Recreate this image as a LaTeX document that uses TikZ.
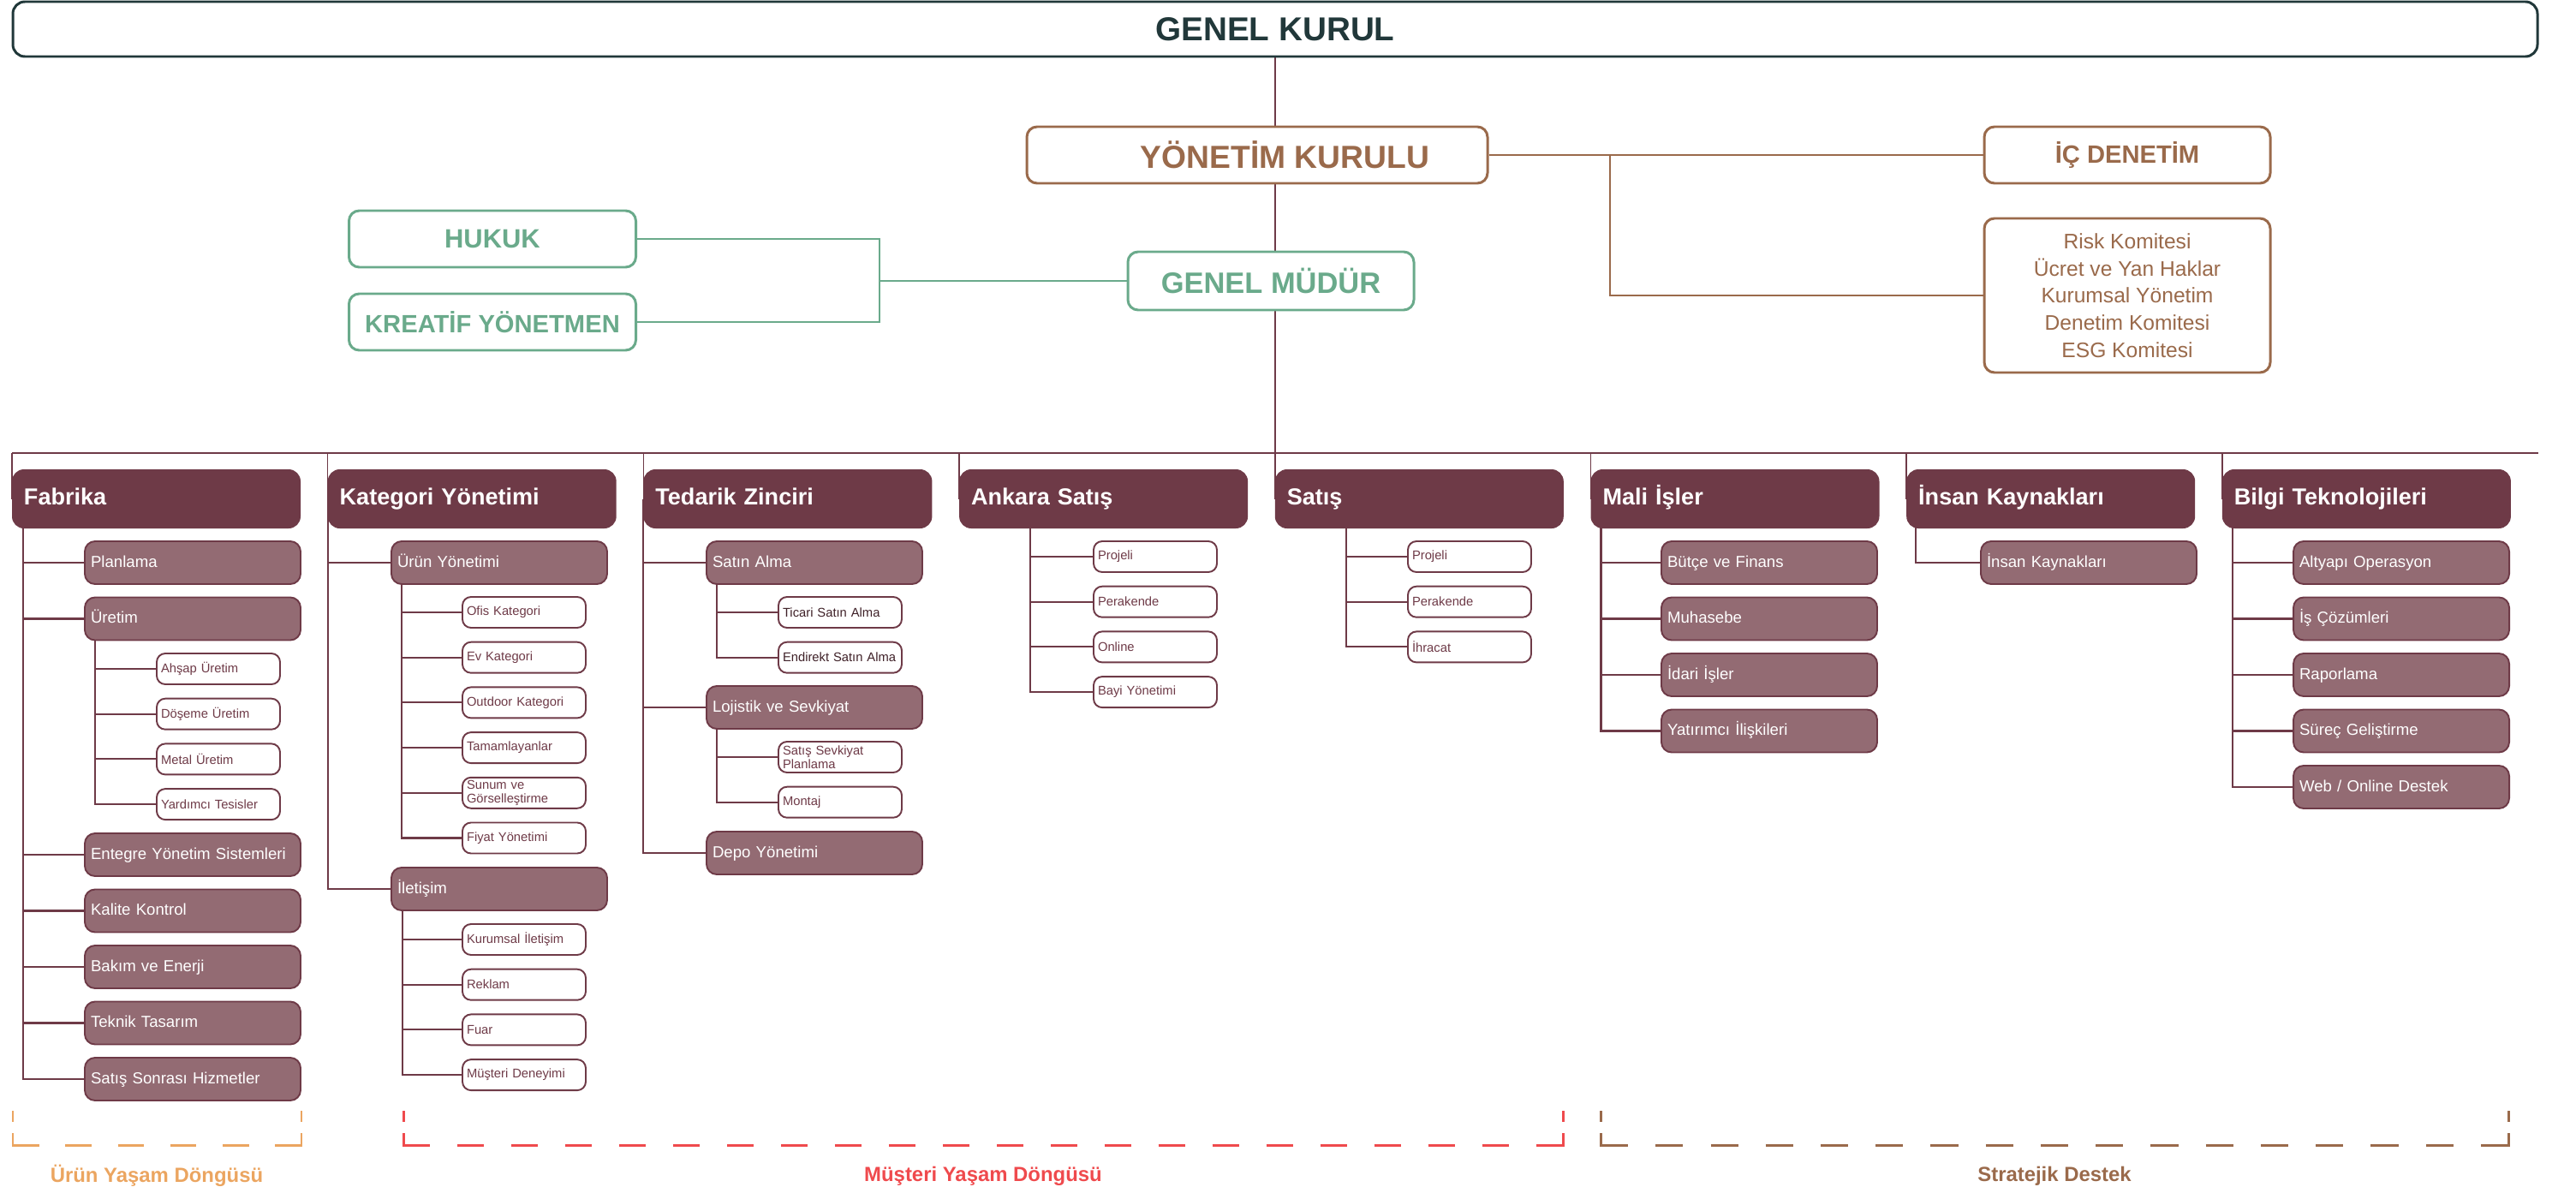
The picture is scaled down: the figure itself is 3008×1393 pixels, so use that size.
\documentclass[tikz,border=0pt]{standalone}
\usepackage{fontspec}
\setmainfont{Liberation Sans}
\usepackage{tikz}
\usetikzlibrary{positioning}
\pgfdeclarelayer{background}
\pgfsetlayers{background,main}
\definecolor{tealdk}{HTML}{21383A}
\definecolor{brn}{HTML}{9A6A4B}
\definecolor{grn}{HTML}{6AAA8B}
\definecolor{mrn}{HTML}{6E3A47}
\definecolor{mrndk}{HTML}{3F2128}
\definecolor{mve}{HTML}{936B73}
\definecolor{orng}{HTML}{EBA560}
\definecolor{redd}{HTML}{EF4A4D}

\begin{document}
\begin{tikzpicture}[x=0.1mm, y=-0.1mm,
  gkbox/.style = {draw=tealdk, line width=0.85pt, rounded corners=1.4mm, minimum width=294.8mm, minimum height=6.4mm, text=tealdk, font=\fontsize{11}{13}\selectfont\bfseries},
  ykbox/.style = {draw=brn, fill=white, line width=0.85pt, rounded corners=1.2mm, minimum height=6.6mm, text=brn, font=\fontsize{9.5}{11}\selectfont\bfseries},
  grnbox/.style = {draw=grn, fill=white, line width=0.85pt, rounded corners=1.2mm, minimum width=33.5mm, minimum height=6.6mm, text=grn, font=\fontsize{8.3}{10}\selectfont\bfseries},
  kombox/.style = {draw=brn, fill=white, line width=0.85pt, rounded corners=1.2mm, minimum width=33.4mm, minimum height=18mm, align=center, text=brn, font=\fontsize{7}{9}\selectfont},
  hdrbox/.style = {fill=mrn, rounded corners=1.4mm, anchor=north west, outer sep=0pt, text width=30.9mm, inner xsep=1.4mm, minimum height=6.9mm, text height=2mm, text depth=0.6mm, align=left, text=white, font=\fontsize{7.7}{9}\selectfont\bfseries, node distance=3.17mm},
  subbox/.style = {draw=mrn, fill=mve, line width=0.55pt, rounded corners=1.2mm, anchor=north west, outer sep=0pt, text width=23.8mm, inner xsep=0.7mm, minimum height=5mm, text height=1.45mm, text depth=0.45mm, align=left, text=white, font=\fontsize{5.3}{6.4}\selectfont, node distance=1.55mm},
  leafbox/.style = {draw=mrn, fill=white, line width=0.55pt, rounded corners=1mm, anchor=north west, outer sep=0pt, text width=13.4mm, inner xsep=0.5mm, inner ysep=0.3mm, minimum height=3.6mm, align=left, text=mrn, font=\fontsize{4.2}{4.5}\selectfont, node distance=1.67mm},
  spine/.style = {draw=mrn, line width=0.6pt},
  busln/.style = {draw=mrn, line width=0.45pt},
  brnln/.style = {draw=brn, line width=0.75pt},
  grnln/.style = {draw=grn, line width=0.75pt},
  lbl/.style = {font=\fontsize{6.8}{8}\selectfont\bfseries}]
\useasboundingbox (0,0) rectangle (3008,1393);

% top of the chart
\node[gkbox] (gk) at (1489,34) {GENEL KURUL};
\node[ykbox, minimum width=53.8mm, font=\fontsize{10.6}{12}\selectfont\bfseries] (yk) at (1468,181) {\hspace*{6.5mm}YÖNETİM KURULU};
\node[ykbox, minimum width=33.4mm, font=\fontsize{8.3}{10}\selectfont\bfseries] (ic) at (2484,181) {İÇ DENETİM};
\node[kombox] (kom) at (2484,345) {Risk Komitesi\\Ücret ve Yan Haklar\\Kurumsal Yönetim\\Denetim Komitesi\\ESG Komitesi};
\node[grnbox, minimum width=33.4mm, minimum height=6.8mm, font=\fontsize{9.8}{11}\selectfont\bfseries] (gm) at (1484,328) {GENEL MÜDÜR};
\node[grnbox, font=\fontsize{8.8}{10}\selectfont\bfseries] (hukuk) at (575,279) {HUKUK};
\node[grnbox] (kreatif) at (575,376) {KREATİF YÖNETMEN};

% departments
\node[hdrbox] (fab) at (14,548) {Fabrika};
\node[hdrbox, right=of fab] (kat) {Kategori Yönetimi};
\node[hdrbox, right=of kat] (ted) {Tedarik Zinciri};
\node[hdrbox, right=of ted] (ank) {Ankara Satış};
\node[hdrbox, right=of ank] (sat) {Satış};
\node[hdrbox, right=of sat] (mal) {Mali İşler};
\node[hdrbox, right=of mal] (ik) {İnsan Kaynakları};
\node[hdrbox, right=of ik] (bt) {Bilgi Teknolojileri};

% Fabrika
\node[subbox] (plan) at (99,632) {Planlama};
\node[subbox, below=of plan] (uret) {Üretim};
\node[leafbox] (ahs) at (183,763) {Ahşap Üretim};
\node[leafbox, below=of ahs] (dos) {Döşeme Üretim};
\node[leafbox, below=of dos] (met) {Metal Üretim};
\node[leafbox, below=of met] (yard) {Yardımcı Tesisler};
\node[subbox] (enteg) at (99,973) {Entegre Yönetim Sistemleri};
\node[subbox, below=of enteg] (kal) {Kalite Kontrol};
\node[subbox, below=of kal] (bak) {Bakım ve Enerji};
\node[subbox, below=of bak] (tek) {Teknik Tasarım};
\node[subbox, below=of tek] (sss) {Satış Sonrası Hizmetler};

% Kategori Yonetimi
\node[subbox] (urun) at (457,632) {Ürün Yönetimi};
\node[leafbox] (ofis) at (540,697) {Ofis Kategori};
\node[leafbox, below=of ofis] (evk) {Ev Kategori};
\node[leafbox, below=of evk] (outd) {Outdoor Kategori};
\node[leafbox, below=of outd] (tam) {Tamamlayanlar};
\node[leafbox, below=of tam] (sun) {Sunum ve\\Görselleştirme};
\node[leafbox, below=of sun] (fiy) {Fiyat Yönetimi};
\node[subbox] (ilet) at (457,1013) {İletişim};
\node[leafbox] (kil) at (540,1079) {Kurumsal İletişim};
\node[leafbox, below=of kil] (rek) {Reklam};
\node[leafbox, below=of rek] (fuar) {Fuar};
\node[leafbox, below=of fuar] (mde) {Müşteri Deneyimi};

% Tedarik Zinciri
\node[subbox] (satal) at (825,632) {Satın Alma};
\node[leafbox, text=mrndk] (tic) at (909,697) {Ticari Satın Alma};
\node[leafbox, text=mrndk, below=of tic] (endk) {Endirekt Satın Alma};
\node[subbox] (loj) at (825,801) {Lojistik ve Sevkiyat};
\node[leafbox] (ssp) at (909,866) {Satış Sevkiyat\\Planlama};
\node[leafbox, below=of ssp] (mont) {Montaj};
\node[subbox] (depo) at (825,971) {Depo Yönetimi};

% Ankara Satis
\node[leafbox] (ap) at (1277,632) {Projeli};
\node[leafbox, below=of ap] (aper) {Perakende};
\node[leafbox, below=of aper] (aon) {Online};
\node[leafbox, below=of aon] (abay) {Bayi Yönetimi};

% Satis
\node[leafbox] (sp) at (1644,632) {Projeli};
\node[leafbox, below=of sp] (sper) {Perakende};
\node[leafbox, below=of sper] (sihr) {İhracat};

% Mali Isler
\node[subbox] (but) at (1940,632) {Bütçe ve Finans};
\node[subbox, below=of but] (muh) {Muhasebe};
\node[subbox, below=of muh] (ida) {İdari İşler};
\node[subbox, below=of ida] (yat) {Yatırımcı İlişkileri};

% Insan Kaynaklari
\node[subbox] (ikc) at (2313,632) {İnsan Kaynakları};

% Bilgi Teknolojileri
\node[subbox] (alt) at (2678,632) {Altyapı Operasyon};
\node[subbox, below=of alt] (isc) {İş Çözümleri};
\node[subbox, below=of isc] (rap) {Raporlama};
\node[subbox, below=of rap] (sur) {Süreç Geliştirme};
\node[subbox, below=of sur] (web) {Web / Online Destek};

% lines behind the boxes
\begin{pgfonlayer}{background}
\coordinate (busL) at (14,529);
\coordinate (busR) at (2964,529);
\draw[busln] (busL) -- (busR);
\foreach \h in {fab,kat,ted,ank,sat,mal,ik,bt}
  \draw[busln] (busL -| \h.west) -- (\h.west);
\draw[busln] (gk.south -| sat.west) -- (yk.north -| sat.west);
\draw[busln] (yk.south -| sat.west) -- (gm.north -| sat.west);
\draw[busln] (gm.south -| sat.west) -- (busL -| sat.west);

\draw[brnln] (yk) -- (ic);
\coordinate (kj) at (1880,181);
\draw[brnln] (kj) |- (kom);
\coordinate (gj) at (1027,328);
\draw[grnln] (gm) -- (gj);
\draw[grnln] (hukuk) -| (gj) |- (kreatif);

\foreach \c in {plan,uret,enteg,kal,bak,tek,sss}
  \draw[spine] ([xshift=1.3mm]fab.west) |- (\c);
\foreach \c in {ahs,dos,met,yard}
  \draw[spine] ([xshift=1.2mm]uret.west) |- (\c);
\foreach \c in {urun,ilet}
  \draw[spine] (kat.west) |- (\c);
\foreach \c in {ofis,evk,outd,tam,sun,fiy}
  \draw[spine] ([xshift=1.2mm]urun.west) |- (\c);
\foreach \c in {kil,rek,fuar,mde}
  \draw[spine] ([xshift=1.3mm]ilet.west) |- (\c);
\foreach \c in {satal,loj,depo}
  \draw[spine] (ted.west) |- (\c);
\foreach \c in {tic,endk}
  \draw[spine] ([xshift=1.2mm]satal.west) |- (\c);
\foreach \c in {ssp,mont}
  \draw[spine] ([xshift=1.2mm]loj.west) |- (\c);
\foreach \c in {ap,aper,aon,abay}
  \draw[spine] ([xshift=8.3mm]ank.west) |- (\c);
\foreach \c in {sp,sper,sihr}
  \draw[spine] ([xshift=8.3mm]sat.west) |- (\c);
\foreach \c in {but,muh,ida,yat}
  \draw[spine] ([xshift=1.2mm]mal.west) |- (\c);
\draw[spine] ([xshift=1.1mm]ik.west) |- (ikc);
\foreach \c in {alt,isc,rap,sur,web}
  \draw[spine] ([xshift=1.2mm]bt.west) |- (\c);
\end{pgfonlayer}

% life cycle brackets
\foreach \a/\b/\s/\c in {15/352/3.064/orng, 471/1825/3.149/redd, 1869/2929/3.212/brn} {
  \draw[\c, line width=0.85pt, line cap=rect] (\a,1298) -- (\a,1308) (\b,1298) -- (\b,1308) (\a,1324) -- (\a,1337) (\b,1324) -- (\b,1337);
  \draw[\c, line width=0.85pt, dash pattern=on \s mm off \s mm] (\a,1337) -- (\b,1337);
}
\node[lbl, text=orng] (lblU) at (183,1373) {Ürün Yaşam Döngüsü};
\node[lbl, text=redd] (lblM) at (1148,1373) {Müşteri Yaşam Döngüsü};
\node[lbl, text=brn] (lblS) at (2399,1373) {Stratejik Destek};
\end{tikzpicture}
\end{document}
